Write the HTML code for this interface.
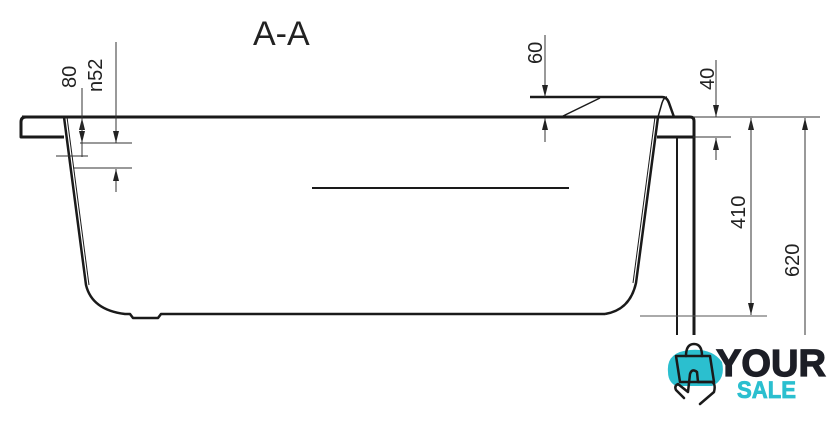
<!DOCTYPE html>
<html><head><meta charset="utf-8"><style>
html,body{margin:0;padding:0;background:#fff;width:840px;height:438px;overflow:hidden}
svg{display:block}
text{font-family:"Liberation Sans",sans-serif;fill:#222}
</style></head><body>
<svg width="840" height="438" viewBox="0 0 840 438" xmlns="http://www.w3.org/2000/svg">
<defs>
<marker id="ar" markerWidth="12" markerHeight="6" refX="12" refY="3" orient="auto" markerUnits="userSpaceOnUse">
<path d="M0,0 L12,3 L0,6 Z" fill="#222"/></marker>
</defs>
<text x="253" y="45" font-size="34">A-A</text>
<g fill="none" stroke="#1a1a1a" stroke-linejoin="round">
<path d="M64,117 L26,117 Q21,117 21,122 L21,137 L64,137" stroke-width="3"/>
<line x1="22" y1="117" x2="688" y2="117" stroke-width="3"/>
<path d="M64,117 L86,285 Q92,310 125,314 L130,314 L133,318 L158,318 L161,314 L605,314" stroke-width="2.5"/>
<path d="M67,117 L89,285" stroke-width="1"/>
<path d="M658,117 L636,283 Q630,310 605,314" stroke-width="2.5"/>
<path d="M655,117 L633,283" stroke-width="1"/>
<path d="M530,97 L662,97 Q667,97 669,103 L674,117" stroke-width="2.5"/>
<path d="M658,117 L662,103 Q664,97 667,97" stroke-width="1.5"/>
<line x1="561" y1="117" x2="600" y2="98" stroke-width="1.5"/>
<path d="M658,117 L690,117 Q694,117 694,121 L694,335" stroke-width="3"/>
<line x1="657" y1="137" x2="694" y2="137" stroke-width="3"/>
<line x1="677" y1="137" x2="677" y2="335" stroke-width="2"/>
<line x1="312" y1="188" x2="569" y2="188" stroke-width="2"/>
</g>
<g stroke="#333" stroke-width="1" fill="none">
<line x1="82" y1="88" x2="82" y2="157"/>
<line x1="82" y1="143" x2="82" y2="118" marker-end="url(#ar)"/>
<line x1="82" y1="118" x2="82" y2="143" marker-end="url(#ar)"/>
<line x1="80" y1="143" x2="132" y2="143"/>
<line x1="56" y1="156" x2="88" y2="156"/>
<line x1="116" y1="42" x2="116" y2="143" marker-end="url(#ar)"/>
<line x1="73" y1="168" x2="132" y2="168"/>
<line x1="116" y1="192" x2="116" y2="169" marker-end="url(#ar)"/>
<line x1="545" y1="35" x2="545" y2="97" marker-end="url(#ar)"/>
<line x1="545" y1="142" x2="545" y2="118" marker-end="url(#ar)"/>
<line x1="716" y1="60" x2="716" y2="117" marker-end="url(#ar)"/>
<line x1="693" y1="137" x2="731" y2="137"/>
<line x1="716" y1="160" x2="716" y2="138" marker-end="url(#ar)"/>
<line x1="693" y1="117" x2="820" y2="117"/>
<line x1="751" y1="315" x2="751" y2="118" marker-end="url(#ar)"/>
<line x1="751" y1="118" x2="751" y2="315" marker-end="url(#ar)"/>
<line x1="640" y1="316" x2="767" y2="316" stroke="#555"/>
<line x1="805" y1="335" x2="805" y2="118" marker-end="url(#ar)"/>
</g>
<text transform="translate(76,88) rotate(-90)" font-size="20">80</text>
<text transform="translate(102,92) rotate(-90)" font-size="20">n52</text>
<text transform="translate(542,64) rotate(-90)" font-size="20">60</text>
<text transform="translate(714,90) rotate(-90)" font-size="20">40</text>
<text transform="translate(745,229) rotate(-90)" font-size="20">410</text>
<text transform="translate(799,277) rotate(-90)" font-size="20">620</text>
<path d="M668,372 Q666,352 690,350 Q712,348 722,362 Q726,380 712,386 L676,386 Q668,382 668,372 Z" fill="#2bbfcf"/>
<g fill="none" stroke="#1a1a1a" stroke-width="2.5" stroke-linejoin="round" stroke-linecap="round">
<path d="M676,356 L710,356 L714,382 L680,382 Z"/>
<path d="M686,356 Q686,344 694,344 Q702,344 702,356"/>
<path d="M684,398 L676,390 Q674,386 678,384 L688,392 L690,374 Q692,368 697,372 L698,382 L712,382 Q716,384 714,392 L700,404"/>
</g>
<text x="716" y="376" font-size="38" font-weight="bold" style="fill:#1c1e26;stroke:#1c1e26;stroke-width:1.2" textLength="110" lengthAdjust="spacingAndGlyphs">YOUR</text>
<text x="737" y="398" font-size="24" font-weight="bold" style="fill:#2bbfcf;stroke:#2bbfcf;stroke-width:0.8" textLength="59" lengthAdjust="spacingAndGlyphs">SALE</text>
</svg>
</body></html>
